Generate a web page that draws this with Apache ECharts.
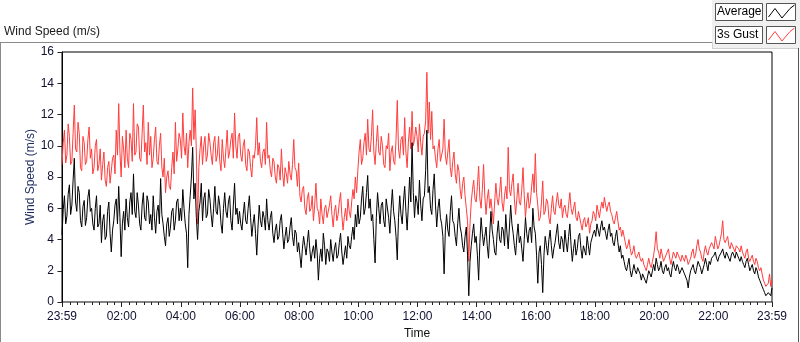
<!DOCTYPE html>
<html>
<head>
<meta charset="utf-8">
<script src="https://cdn.jsdelivr.net/npm/echarts@6/dist/echarts.min.js"></script>
<style>
html,body{margin:0;padding:0;background:#fff;}
#chart{width:800px;height:342px;}
</style>
</head>
<body>
<div id="chart"></div>
<script>
// Sampling: every 2.5 minutes starting 23:59 (x = minutes after 00:00, -1 = 23:59 previous day)
const startMinute = -1;
const stepMinutes = 2.5;

const averageSpeed = [
4.3, 5.9, 6.8, 5.0, 5.5, 6.9, 7.5, 5.6, 6.2, 7.8, 9.2, 6.4, 5.8, 7.4, 7.0, 5.2, 4.8, 6.1, 6.5, 4.9, 5.4, 6.7, 7.2, 5.8,
6.0, 5.0, 4.6, 6.0, 6.8, 4.8, 5.0, 6.2, 3.8, 5.2, 5.6, 4.0, 4.2, 5.8, 6.4, 4.4, 3.2, 4.6, 5.2, 6.2, 6.6, 5.0, 7.4, 5.4,
2.9, 5.0, 5.8, 4.6, 6.6, 5.4, 4.8, 6.4, 7.0, 5.6, 8.2, 5.8, 5.4, 7.0, 6.2, 5.0, 4.6, 6.2, 7.0, 5.4, 5.2, 6.8, 6.4, 5.0,
5.6, 4.6, 6.8, 5.4, 4.4, 5.8, 6.2, 5.0, 7.9, 5.6, 5.0, 4.2, 3.6, 5.0, 5.4, 4.2, 4.8, 5.8, 6.0, 4.6, 5.2, 6.4, 6.6, 5.2,
6.0, 5.2, 7.2, 6.0, 5.0, 4.4, 2.2, 5.6, 6.8, 8.0, 9.9, 6.6, 7.6, 5.4, 4.0, 5.8, 6.4, 7.6, 5.2, 6.6, 7.0, 5.4, 5.6, 7.2,
6.6, 5.6, 4.8, 6.0, 7.4, 5.8, 5.6, 6.8, 6.2, 5.0, 4.4, 6.0, 7.0, 5.8, 5.4, 6.4, 6.8, 5.2, 4.6, 6.2, 7.6, 5.6, 6.0, 5.0,
5.8, 5.0, 4.6, 5.6, 6.4, 5.2, 5.0, 6.0, 6.8, 5.4, 4.2, 5.0, 5.6, 4.4, 3.0, 4.8, 6.2, 5.2, 4.8, 5.8, 5.4, 4.6, 6.6, 5.2,
4.6, 5.4, 5.8, 4.4, 3.8, 4.6, 5.0, 4.0, 4.2, 5.2, 5.6, 4.4, 3.4, 4.2, 4.8, 3.8, 4.0, 4.8, 5.4, 4.2, 3.6, 4.6, 4.4, 3.2,
3.8, 3.0, 2.2, 3.4, 4.2, 3.6, 3.0, 3.8, 4.6, 3.4, 2.6, 3.2, 3.6, 2.8, 4.0, 3.2, 1.4, 2.8, 3.4, 2.6, 4.4, 3.6, 2.4, 3.4,
3.2, 2.6, 4.0, 3.2, 2.6, 3.4, 3.8, 2.8, 3.0, 3.8, 4.4, 3.2, 2.4, 3.0, 3.6, 2.8, 4.2, 3.6, 3.4, 4.2, 4.8, 4.0, 5.6, 4.8,
6.2, 5.0, 5.4, 6.6, 7.4, 5.6, 6.0, 7.0, 8.1, 6.0, 6.6, 5.2, 5.6, 4.0, 2.5, 5.4, 7.0, 6.0, 5.0, 6.2, 6.4, 5.2, 4.8, 6.6,
6.6, 5.4, 4.4, 6.0, 7.2, 5.8, 5.2, 4.2, 2.7, 5.4, 6.8, 5.6, 5.0, 6.4, 7.4, 5.8, 4.6, 6.2, 8.0, 6.4, 10.2, 7.0, 5.4, 6.8,
6.4, 5.6, 7.8, 6.2, 5.2, 6.6, 6.8, 8.4, 11.0, 7.0, 7.4, 6.0, 5.6, 7.2, 8.2, 6.2, 4.8, 6.0, 6.6, 5.4, 5.0, 4.2, 1.8, 4.6,
5.6, 4.6, 4.2, 5.8, 6.8, 5.2, 5.0, 4.2, 3.6, 5.0, 6.0, 4.8, 4.4, 3.6, 3.2, 4.2, 4.8, 3.0, 0.4, 2.6, 3.6, 4.4, 5.0, 3.8,
4.2, 3.0, 1.4, 3.8, 5.4, 4.4, 3.6, 4.2, 4.8, 3.6, 2.8, 4.4, 5.8, 4.6, 4.0, 3.2, 3.0, 4.4, 5.2, 4.0, 3.8, 4.8, 4.6, 3.6,
5.6, 4.4, 3.4, 4.8, 6.2, 5.0, 4.4, 3.6, 3.0, 4.2, 5.0, 3.8, 4.2, 3.4, 2.6, 4.0, 5.4, 4.4, 3.8, 4.6, 4.8, 3.8, 6.0, 4.8,
4.4, 3.0, 1.2, 3.2, 3.6, 2.4, 0.6, 3.0, 4.2, 3.6, 3.0, 4.0, 4.6, 3.6, 2.8, 3.4, 3.8, 4.4, 5.0, 3.8, 3.4, 4.2, 4.0, 3.2,
4.6, 3.8, 3.2, 4.2, 5.0, 3.6, 2.6, 3.4, 4.0, 3.0, 3.4, 4.2, 4.4, 3.4, 2.8, 3.6, 3.6, 3.0, 4.2, 3.6, 3.0, 3.8, 3.8, 4.4,
4.6, 4.2, 5.0, 4.6, 4.2, 4.8, 5.2, 4.6, 4.8, 4.4, 4.0, 4.6, 5.0, 4.2, 4.4, 3.8, 3.6, 4.2, 4.6, 3.8, 3.2, 3.6, 2.8, 3.0,
2.6, 2.2, 2.0, 2.4, 2.8, 2.0, 1.6, 2.0, 2.4, 2.0, 1.8, 2.2, 2.2, 1.8, 1.4, 1.8, 1.8, 1.4, 1.2, 1.6, 2.0, 1.8, 1.6, 2.0,
2.4, 2.0, 2.8, 2.4, 2.0, 2.2, 2.6, 2.0, 1.8, 2.2, 2.4, 2.0, 2.2, 1.8, 1.6, 2.2, 2.6, 2.2, 2.0, 2.4, 2.2, 1.8, 1.8, 2.2,
2.2, 1.8, 1.6, 1.4, 0.9, 1.6, 2.0, 2.2, 2.4, 2.0, 1.8, 2.2, 2.6, 2.4, 2.2, 1.8, 1.8, 2.4, 2.8, 2.4, 2.0, 2.6, 2.4, 2.8,
2.8, 3.0, 3.2, 2.8, 2.6, 2.9, 3.0, 3.2, 3.4, 3.0, 2.8, 3.2, 3.0, 2.8, 2.6, 3.0, 3.2, 3.0, 2.8, 3.2, 3.0, 2.8, 2.6, 2.9,
2.6, 2.4, 2.2, 2.6, 2.8, 2.4, 2.0, 2.2, 2.4, 2.0, 1.8, 2.2, 2.0, 1.6, 1.4, 1.2, 1.0, 0.8, 0.6, 0.4, 0.3, 0.6, 0.5, 0.4,
0.9
];

const gustSpeed = [
8.8, 10.2, 11.0, 8.9, 9.4, 11.4, 10.6, 8.8, 9.0, 10.8, 12.6, 9.8, 9.6, 11.5, 10.8, 8.6, 8.4, 10.6, 10.2, 8.8, 9.0, 10.4, 11.2, 9.2,
9.8, 8.2, 8.6, 10.0, 10.4, 8.4, 8.8, 9.8, 7.8, 8.8, 9.6, 7.8, 7.4, 8.6, 9.0, 7.6, 7.6, 9.2, 9.4, 8.2, 11.0, 9.4, 12.7, 9.6,
8.0, 10.6, 9.8, 8.6, 11.0, 9.2, 8.6, 10.8, 10.4, 9.0, 12.7, 9.4, 9.6, 11.4, 11.2, 9.2, 9.0, 10.8, 12.6, 9.6, 10.2, 8.8, 11.5, 9.4,
10.6, 8.6, 9.2, 10.4, 11.2, 9.0, 8.8, 10.0, 10.8, 8.6, 8.0, 9.2, 7.0, 8.0, 8.4, 7.4, 7.2, 8.6, 9.6, 8.2, 11.5, 9.0, 9.8, 10.8,
10.4, 9.2, 12.1, 10.0, 9.4, 10.8, 8.6, 10.2, 11.0, 10.0, 13.7, 10.4, 12.3, 9.6, 5.0, 8.6, 9.8, 10.6, 8.8, 10.0, 10.6, 9.0, 9.4, 10.8,
10.2, 9.4, 8.8, 10.2, 10.6, 9.0, 9.4, 10.6, 9.0, 8.4, 10.4, 9.2, 8.6, 9.8, 11.0, 9.2, 9.6, 10.4, 10.8, 9.2, 12.1, 10.0, 9.2, 10.6,
10.8, 9.4, 9.0, 10.0, 10.4, 8.8, 8.4, 9.8, 9.6, 8.6, 8.0, 9.4, 9.2, 10.0, 11.8, 9.4, 10.2, 9.0, 8.6, 9.6, 9.8, 8.8, 11.5, 9.2,
9.4, 8.4, 8.0, 9.2, 9.0, 8.0, 7.6, 8.8, 8.6, 7.8, 9.8, 8.2, 7.4, 8.6, 8.2, 7.6, 9.0, 8.2, 7.8, 8.8, 10.4, 8.6, 8.4, 7.4,
8.9, 6.8, 6.4, 7.2, 7.4, 6.0, 5.6, 6.6, 7.0, 5.8, 6.0, 6.8, 5.2, 6.2, 7.6, 6.0, 5.8, 5.0, 6.6, 5.6, 5.0, 6.0, 6.2, 5.4,
5.4, 6.2, 6.8, 5.6, 4.8, 5.8, 6.2, 5.2, 5.6, 6.4, 7.0, 5.6, 4.6, 5.4, 6.0, 5.2, 6.6, 5.8, 5.4, 6.4, 7.2, 6.6, 8.0, 7.0,
8.4, 9.6, 10.4, 8.8, 9.2, 10.2, 10.8, 9.4, 11.7, 9.8, 9.6, 10.6, 12.3, 9.6, 8.8, 10.2, 11.3, 9.6, 9.4, 10.6, 10.0, 8.8, 8.6, 10.0,
9.8, 10.8, 8.4, 9.6, 10.0, 9.0, 8.8, 10.4, 12.9, 9.8, 9.2, 10.4, 10.6, 9.4, 11.8, 9.6, 8.6, 10.2, 11.2, 9.8, 12.2, 10.0, 10.4, 11.2,
10.6, 9.6, 11.4, 10.2, 9.4, 10.6, 10.8, 11.6, 14.7, 10.8, 12.8, 10.4, 12.2, 9.8, 10.0, 9.2, 8.6, 9.8, 10.4, 9.0, 9.0, 9.8, 11.7, 9.4,
8.8, 9.6, 10.4, 8.6, 8.0, 9.0, 9.6, 8.2, 7.6, 8.8, 8.4, 7.2, 6.6, 7.6, 8.0, 6.8, 6.0, 5.2, 2.6, 5.0, 6.4, 7.2, 7.8, 6.6,
6.4, 7.4, 8.7, 6.6, 6.0, 7.2, 8.8, 6.8, 5.6, 6.6, 7.2, 6.0, 6.6, 5.8, 5.0, 6.4, 7.6, 6.6, 6.2, 7.0, 8.0, 6.4, 5.8, 6.8,
7.4, 6.6, 9.9, 7.2, 6.8, 7.6, 8.2, 6.6, 5.6, 6.6, 7.6, 6.4, 6.2, 7.2, 8.6, 6.8, 5.4, 6.4, 7.0, 6.0, 6.4, 7.4, 8.2, 7.0,
9.5, 7.0, 6.2, 5.2, 5.4, 6.4, 7.75, 5.6, 5.8, 6.6, 6.4, 5.4, 5.0, 6.0, 6.8, 5.8, 5.6, 6.4, 7.0, 6.2, 6.0, 6.6, 5.4, 6.0,
6.2, 5.6, 5.4, 6.2, 7.0, 6.0, 5.6, 6.0, 6.4, 5.4, 5.2, 5.8, 5.8, 5.0, 4.6, 5.2, 5.4, 4.8, 5.0, 5.4, 4.4, 5.0, 5.2, 5.8,
5.6, 5.2, 6.2, 5.8, 5.4, 6.0, 6.4, 6.0, 6.7, 6.2, 5.8, 6.2, 6.4, 5.8, 5.6, 5.2, 5.0, 5.4, 5.8, 5.2, 4.6, 4.8, 4.2, 4.6,
4.2, 3.8, 3.4, 3.6, 4.0, 3.4, 3.0, 3.2, 3.6, 3.0, 2.8, 3.0, 3.2, 2.8, 2.6, 2.8, 2.4, 2.2, 2.0, 2.4, 2.8, 2.4, 2.2, 2.6,
3.0, 3.6, 4.5, 3.4, 3.2, 2.8, 3.4, 3.0, 2.6, 2.8, 3.0, 3.2, 3.4, 2.8, 2.4, 2.8, 3.2, 3.0, 2.8, 3.2, 3.0, 2.8, 2.6, 3.0,
2.8, 2.6, 3.0, 2.8, 2.4, 2.6, 2.8, 3.2, 3.4, 2.8, 3.0, 3.6, 4.0, 3.4, 3.2, 2.8, 2.6, 3.2, 3.6, 3.2, 3.0, 3.4, 3.4, 3.8,
3.6, 3.4, 4.2, 3.8, 3.4, 3.6, 4.0, 4.4, 5.2, 4.0, 3.8, 4.0, 4.2, 3.6, 3.4, 3.8, 3.8, 3.4, 3.2, 3.6, 3.6, 3.4, 3.2, 3.6,
3.2, 3.0, 2.8, 3.2, 3.4, 2.8, 2.6, 2.8, 3.0, 2.6, 2.4, 2.8, 2.6, 2.2, 2.0, 2.2, 1.8, 1.4, 1.2, 1.0, 0.9, 1.2, 1.8, 1.0,
1.4
];

const xTickLabels = ['23:59','02:00','04:00','06:00','08:00','10:00','12:00','14:00','16:00','18:00','20:00','22:00','23:59'];
const xTickValues = [-1, 120, 240, 360, 480, 600, 720, 840, 960, 1080, 1200, 1320, 1439];
const yTicks = [0, 2, 4, 6, 8, 10, 12, 14, 16];

const FONT = '"Liberation Sans", Arial, sans-serif';
const LABEL_COLOR = '#101030';

const avgData = averageSpeed.map((v, i) => [startMinute + i * stepMinutes, v]);
const gustData = gustSpeed.map((v, i) => [startMinute + i * stepMinutes, v]);

const minorTicks = [-1];
for (let m = 15; m < 1439; m += 15) minorTicks.push(m);
minorTicks.push(1439);

const chart = echarts.init(document.getElementById('chart'), null, {renderer: 'canvas'});
chart.setOption({
  animation: false,
  backgroundColor: '#fff',
  textStyle: {fontFamily: FONT},
  title: {
    text: 'Wind Speed (m/s)', left: 4, top: 26, padding: 0,
    textStyle: {fontSize: 12, fontWeight: 'normal', color: '#1a1a1a', fontFamily: FONT}
  },
  grid: {
    left: 62, top: 52, right: 28, bottom: 40,
    containLabel: false, outerBoundsMode: 'none',
    show: true, borderColor: '#000', borderWidth: 1, backgroundColor: '#fff'
  },
  xAxis: [{
    type: 'value', min: -1, max: 1439,
    name: 'Time', nameLocation: 'middle', nameGap: 26, nameMoveOverlap: false,
    nameTextStyle: {fontSize: 12, color: '#101010', fontFamily: FONT},
    axisLine: {show: true, lineStyle: {color: '#888', width: 1}},
    axisTick: {show: true, customValues: xTickValues, length: 5, lineStyle: {color: '#222'}},
    axisLabel: {
      show: true, customValues: xTickValues, margin: 9, fontSize: 12, color: LABEL_COLOR, fontFamily: FONT,
      hideOverlap: false,
      formatter: function (v) { const i = xTickValues.indexOf(v); return i >= 0 ? xTickLabels[i] : ''; }
    },
    splitLine: {show: false}
  }, {
    type: 'value', min: -1, max: 1439, position: 'bottom', gridIndex: 0,
    axisLine: {show: false},
    axisTick: {show: true, customValues: minorTicks, length: 3, lineStyle: {color: '#222'}},
    axisLabel: {show: false},
    splitLine: {show: false}
  }],
  yAxis: {
    type: 'value', min: 0, max: 16, interval: 2,
    name: 'Wind Speed (m/s)', nameLocation: 'middle', nameGap: 25, nameRotate: 90, nameMoveOverlap: false,
    nameTextStyle: {fontSize: 12, color: '#1c2a5c', fontFamily: FONT},
    axisLine: {show: true, lineStyle: {color: '#000', width: 1}},
    axisTick: {show: true, length: 5, lineStyle: {color: '#222'}},
    axisLabel: {margin: 8, fontSize: 12, color: LABEL_COLOR, fontFamily: FONT,
      formatter: function (v) { return yTicks.indexOf(v) >= 0 ? String(v) : ''; }},
    splitLine: {show: false}
  },
  series: [{
    name: '3s Gust', type: 'line', data: gustData, xAxisIndex: 0,
    showSymbol: false, symbol: 'none', lineStyle: {color: '#ff3d3d', width: 1}, z: 2
  }, {
    name: 'Average', type: 'line', data: avgData, xAxisIndex: 0,
    showSymbol: false, symbol: 'none', lineStyle: {color: '#000', width: 1}, z: 3
  }],
  graphic: [
    {type: 'rect', z: -10, shape: {x: 712, y: 0, width: 88, height: 48}, style: {fill: '#f0f0f0'}},
    {type: 'line', shape: {x1: 0, y1: 42.5, x2: 712, y2: 42.5}, style: {stroke: '#8a8a8a', lineWidth: 1}},
    {type: 'line', shape: {x1: 0.5, y1: 42, x2: 0.5, y2: 342}, style: {stroke: '#8a8a8a', lineWidth: 1}},
    {type: 'line', shape: {x1: 798.5, y1: 48, x2: 798.5, y2: 342}, style: {stroke: '#555', lineWidth: 1}},
    {type: 'line', shape: {x1: 712, y1: 48.5, x2: 798, y2: 48.5}, style: {stroke: '#d0d0d0', lineWidth: 1}},
    {type: 'line', shape: {x1: 712.5, y1: 42, x2: 712.5, y2: 48}, style: {stroke: '#d0d0d0', lineWidth: 1}},
    {type: 'rect', shape: {x: 715.5, y: 3.5, width: 47, height: 17}, style: {fill: '#fff', stroke: '#555', lineWidth: 1}},
    {type: 'text', x: 717, y: 12, style: {text: 'Average', fontSize: 12, fontFamily: FONT, fill: '#000', textVerticalAlign: 'middle', verticalAlign: 'middle'}},
    {type: 'rect', shape: {x: 766.5, y: 3.5, width: 29, height: 17}, style: {fill: '#fff', stroke: '#555', lineWidth: 1}},
    {type: 'polyline', shape: {points: [[768.5, 17], [775, 8.5], [782, 18], [790, 8.5], [794.5, 5]]}, style: {stroke: '#000', lineWidth: 1, fill: null}},
    {type: 'rect', shape: {x: 715.5, y: 26.5, width: 47, height: 17}, style: {fill: '#fff', stroke: '#555', lineWidth: 1}},
    {type: 'text', x: 717, y: 35, style: {text: '3s Gust', fontSize: 12, fontFamily: FONT, fill: '#000', textVerticalAlign: 'middle', verticalAlign: 'middle'}},
    {type: 'rect', shape: {x: 766.5, y: 26.5, width: 29, height: 17}, style: {fill: '#fff', stroke: '#555', lineWidth: 1}},
    {type: 'polyline', shape: {points: [[768.5, 40], [775, 31.5], [782, 41], [790, 31.5], [794.5, 28]]}, style: {stroke: '#ff3d3d', lineWidth: 1, fill: null}}
  ]
});
</script>
</body>
</html>
